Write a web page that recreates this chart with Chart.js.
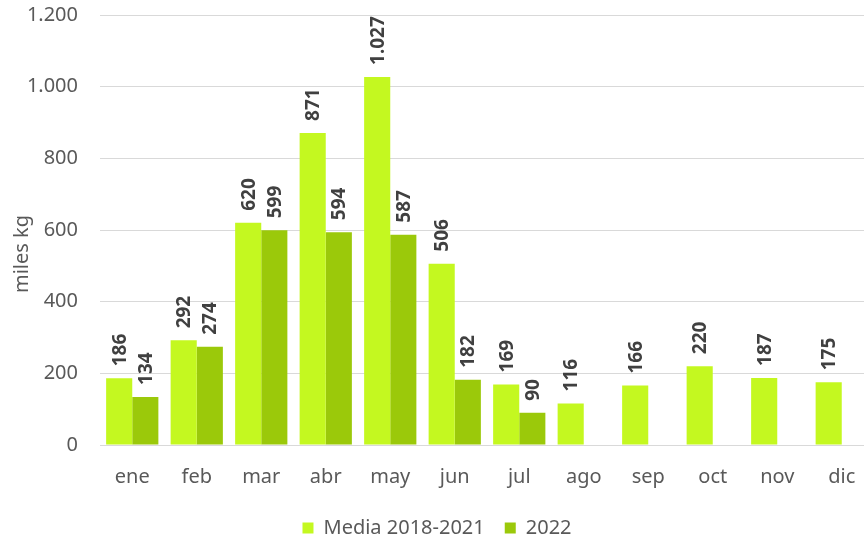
<!DOCTYPE html>
<html>
<head>
<meta charset="utf-8">
<script src="https://cdn.jsdelivr.net/npm/chart.js@4.4.0/dist/chart.umd.min.js"></script>
<style>
  html, body { margin: 0; padding: 0; background: #fff; overflow: hidden; }
  #wrap { width: 876px; height: 567px; margin-top: -19px; }
</style>
</head>
<body>
<div id="wrap"><canvas id="monthlyChart"></canvas></div>
<script>
const months = ['ene', 'feb', 'mar', 'abr', 'may', 'jun', 'jul', 'ago', 'sep', 'oct', 'nov', 'dic'];
const media2018_2021 = [186, 292, 620, 871, 1027, 506, 169, 116, 166, 220, 187, 175];
const year2022 = [134, 274, 599, 594, 587, 182, 90, null, null, null, null, null];
const yTicks = [0, 200, 400, 600, 800, 1000, 1200];

// Spanish style thousands separator, also for 4-digit numbers
function fmt(v) {
    return String(v).replace(/\B(?=(\d{3})+(?!\d))/g, '.');
}

const FONT = '"Noto Sans", sans-serif';

// value labels rotated above each bar
const barLabels = {
    id: 'barLabels',
    afterDatasetsDraw(chart) {
        const ctx = chart.ctx;
        ctx.save();
        ctx.fillStyle = '#404040';
        ctx.font = 'bold 19px ' + FONT;
        ctx.textAlign = 'left';
        ctx.textBaseline = 'middle';
        chart.data.datasets.forEach((ds, i) => {
            chart.getDatasetMeta(i).data.forEach((bar, j) => {
                if (ds.data[j] == null) return;
                ctx.save();
                ctx.translate(bar.x, bar.y - 12);
                ctx.rotate(-Math.PI / 2);
                ctx.fillText(fmt(ds.data[j]), 0, 1);
                ctx.restore();
            });
        });
        ctx.restore();
    }
};

// y axis title, placed like the original (canvas is shifted up 19px)
const yTitle = {
    id: 'yTitle',
    afterDraw(chart) {
        const ctx = chart.ctx;
        ctx.save();
        ctx.fillStyle = '#595959';
        ctx.font = '20px ' + FONT;
        ctx.textAlign = 'center';
        ctx.textBaseline = 'middle';
        ctx.translate(22, 273);
        ctx.rotate(-Math.PI / 2);
        ctx.fillText('miles kg', 0, 0);
        ctx.restore();
    }
};

const ctx = document.getElementById('monthlyChart').getContext('2d');
const monthlyChart = new Chart(ctx, {
    type: 'bar',
    data: {
        labels: months,
        datasets: [{
            label: 'Media 2018-2021',
            data: media2018_2021,
            backgroundColor: '#c4f820',
            barPercentage: 1,
            categoryPercentage: 0.81
        }, {
            label: '2022',
            data: year2022,
            backgroundColor: '#9bc90a',
            barPercentage: 1,
            categoryPercentage: 0.81
        }]
    },
    options: {
        responsive: true,
        maintainAspectRatio: false,
        animation: false,
        layout: { padding: { top: 0, right: 2, left: 0, bottom: 0 } },
        plugins: {
            tooltip: { enabled: false },
            legend: {
                position: 'bottom',
                labels: {
                    color: '#595959',
                    font: { family: FONT, size: 20 },
                    boxWidth: 11,
                    boxHeight: 11,
                    padding: 20
                }
            }
        },
        scales: {
            x: {
                grid: { display: false, drawTicks: false },
                border: { display: false },
                ticks: { color: '#595959', font: { family: FONT, size: 20 }, padding: 20 },
                afterFit(scale) { scale.height = 53; }
            },
            y: {
                min: 0,
                max: 1200,
                afterBuildTicks(scale) { scale.ticks = yTicks.map(v => ({ value: v })); },
                grid: { color: '#d9d9d9', lineWidth: 1, drawTicks: false },
                border: { display: false },
                ticks: {
                    color: '#595959',
                    font: { family: FONT, size: 20 },
                    padding: 22,
                    callback: v => fmt(v)
                },
                afterFit(scale) { scale.width = 100; }
            }
        }
    },
    plugins: [barLabels, yTitle]
});
</script>
</body>
</html>
